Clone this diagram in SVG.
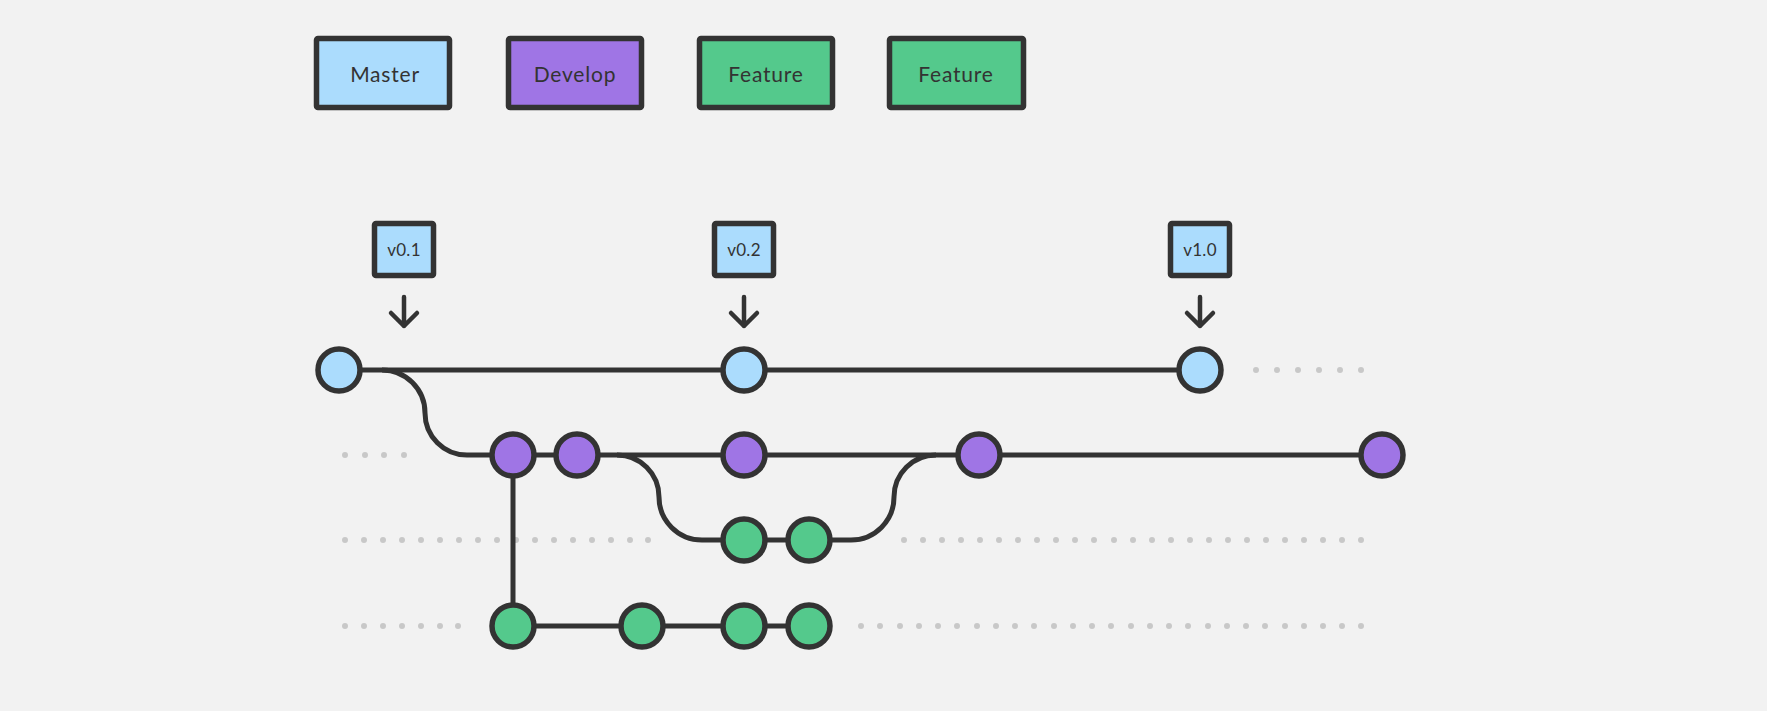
<svg xmlns="http://www.w3.org/2000/svg" width="1767" height="711" viewBox="0 0 1767 711">
<style>
.bg{fill:#f2f2f2}
.box{stroke:#333;stroke-width:5.5;stroke-linejoin:round}
.master{fill:#abdcfd}
.develop{fill:#9f75e5}
.feature{fill:#54c98c}
.lbl{font-family:Lato,"Noto Sans",sans-serif;font-size:21px;fill:#333;text-anchor:middle;letter-spacing:0.8px}
.tag{font-family:Lato,"Liberation Sans",Arial,sans-serif;font-size:17px;fill:#333;text-anchor:middle;letter-spacing:0.3px}
.commit{stroke:#333;stroke-width:5.5}
.line{fill:none;stroke:#333;stroke-width:5}
.arrow{fill:none;stroke:#333;stroke-width:4.5;stroke-linecap:round;stroke-linejoin:round}
.dot{fill:#c8c8c8}
</style>
<rect class="bg" width="1767" height="711"/>

<g id="legend">
<g id="legend-master"><rect class="box master" x="316.5" y="38.5" width="133" height="69" rx="1.5"/><text class="lbl" x="385" y="82">Master</text></g>
<g id="legend-develop"><rect class="box develop" x="508.5" y="38.5" width="133" height="69" rx="1.5"/><text class="lbl" x="575" y="82">Develop</text></g>
<g id="legend-feature1"><rect class="box feature" x="699.5" y="38.5" width="133" height="69" rx="1.5"/><text class="lbl" x="766" y="82">Feature</text></g>
<g id="legend-feature2"><rect class="box feature" x="889.5" y="38.5" width="134" height="69" rx="1.5"/><text class="lbl" x="956" y="82">Feature</text></g>
</g>

<g id="tags">
<g id="tag-v01"><rect class="box master" x="374.5" y="223.5" width="59" height="52" rx="1.5"/><text class="tag" x="404" y="256">v0.1</text><path class="arrow" d="M404 297V326M391 313L404 326L417 313"/></g>
<g id="tag-v02"><rect class="box master" x="714.5" y="223.5" width="59" height="52" rx="1.5"/><text class="tag" x="744" y="256">v0.2</text><path class="arrow" d="M744 297V326M731 313L744 326L757 313"/></g>
<g id="tag-v10"><rect class="box master" x="1170.5" y="223.5" width="59" height="52" rx="1.5"/><text class="tag" x="1200" y="256">v1.0</text><path class="arrow" d="M1200 297V326M1187 313L1200 326L1213 313"/></g>
</g>

<g id="dots">
<g id="dots-master"><circle class="dot" cx="1256" cy="370" r="3"/><circle class="dot" cx="1277" cy="370" r="3"/><circle class="dot" cx="1298" cy="370" r="3"/><circle class="dot" cx="1319" cy="370" r="3"/><circle class="dot" cx="1340" cy="370" r="3"/><circle class="dot" cx="1361" cy="370" r="3"/></g>
<g id="dots-develop"><circle class="dot" cx="345" cy="455" r="3"/><circle class="dot" cx="365" cy="455" r="3"/><circle class="dot" cx="384" cy="455" r="3"/><circle class="dot" cx="404" cy="455" r="3"/></g>
<g id="dots-feature1-left">
<circle class="dot" cx="345" cy="540" r="3"/><circle class="dot" cx="364" cy="540" r="3"/><circle class="dot" cx="383" cy="540" r="3"/><circle class="dot" cx="402" cy="540" r="3"/><circle class="dot" cx="421" cy="540" r="3"/><circle class="dot" cx="440" cy="540" r="3"/><circle class="dot" cx="459" cy="540" r="3"/><circle class="dot" cx="478" cy="540" r="3"/><circle class="dot" cx="497" cy="540" r="3"/><circle class="dot" cx="516" cy="540" r="3"/><circle class="dot" cx="535" cy="540" r="3"/><circle class="dot" cx="554" cy="540" r="3"/><circle class="dot" cx="573" cy="540" r="3"/><circle class="dot" cx="592" cy="540" r="3"/><circle class="dot" cx="611" cy="540" r="3"/><circle class="dot" cx="630" cy="540" r="3"/><circle class="dot" cx="648" cy="540" r="3"/>
</g>
<g id="dots-feature1-right">
<circle class="dot" cx="904" cy="540" r="3"/><circle class="dot" cx="923" cy="540" r="3"/><circle class="dot" cx="942" cy="540" r="3"/><circle class="dot" cx="961" cy="540" r="3"/><circle class="dot" cx="980" cy="540" r="3"/><circle class="dot" cx="999" cy="540" r="3"/><circle class="dot" cx="1018" cy="540" r="3"/><circle class="dot" cx="1037" cy="540" r="3"/><circle class="dot" cx="1056" cy="540" r="3"/><circle class="dot" cx="1075" cy="540" r="3"/><circle class="dot" cx="1094" cy="540" r="3"/><circle class="dot" cx="1114" cy="540" r="3"/><circle class="dot" cx="1133" cy="540" r="3"/><circle class="dot" cx="1152" cy="540" r="3"/><circle class="dot" cx="1171" cy="540" r="3"/><circle class="dot" cx="1190" cy="540" r="3"/><circle class="dot" cx="1209" cy="540" r="3"/><circle class="dot" cx="1228" cy="540" r="3"/><circle class="dot" cx="1247" cy="540" r="3"/><circle class="dot" cx="1266" cy="540" r="3"/><circle class="dot" cx="1285" cy="540" r="3"/><circle class="dot" cx="1304" cy="540" r="3"/><circle class="dot" cx="1323" cy="540" r="3"/><circle class="dot" cx="1342" cy="540" r="3"/><circle class="dot" cx="1361" cy="540" r="3"/>
</g>
<g id="dots-feature2-left">
<circle class="dot" cx="345" cy="626" r="3"/><circle class="dot" cx="364" cy="626" r="3"/><circle class="dot" cx="383" cy="626" r="3"/><circle class="dot" cx="402" cy="626" r="3"/><circle class="dot" cx="421" cy="626" r="3"/><circle class="dot" cx="440" cy="626" r="3"/><circle class="dot" cx="458" cy="626" r="3"/>
</g>
<g id="dots-feature2-right">
<circle class="dot" cx="861" cy="626" r="3"/><circle class="dot" cx="880" cy="626" r="3"/><circle class="dot" cx="900" cy="626" r="3"/><circle class="dot" cx="919" cy="626" r="3"/><circle class="dot" cx="938" cy="626" r="3"/><circle class="dot" cx="957" cy="626" r="3"/><circle class="dot" cx="977" cy="626" r="3"/><circle class="dot" cx="996" cy="626" r="3"/><circle class="dot" cx="1015" cy="626" r="3"/><circle class="dot" cx="1034" cy="626" r="3"/><circle class="dot" cx="1054" cy="626" r="3"/><circle class="dot" cx="1073" cy="626" r="3"/><circle class="dot" cx="1092" cy="626" r="3"/><circle class="dot" cx="1111" cy="626" r="3"/><circle class="dot" cx="1131" cy="626" r="3"/><circle class="dot" cx="1150" cy="626" r="3"/><circle class="dot" cx="1169" cy="626" r="3"/><circle class="dot" cx="1188" cy="626" r="3"/><circle class="dot" cx="1208" cy="626" r="3"/><circle class="dot" cx="1227" cy="626" r="3"/><circle class="dot" cx="1246" cy="626" r="3"/><circle class="dot" cx="1265" cy="626" r="3"/><circle class="dot" cx="1285" cy="626" r="3"/><circle class="dot" cx="1304" cy="626" r="3"/><circle class="dot" cx="1323" cy="626" r="3"/><circle class="dot" cx="1342" cy="626" r="3"/><circle class="dot" cx="1361" cy="626" r="3"/>
</g>
</g>

<g id="connectors">
<path class="line" d="M339 370H1200"/>
<path class="line" d="M382 370A43 43 0 0 1 425 413A42 42 0 0 0 467 455H1382"/>
<path class="line" d="M513 455V626H809"/>
<path class="line" d="M617 455A42 42 0 0 1 659 497A43 43 0 0 0 702 540H851A43 43 0 0 0 894 497A42 42 0 0 1 936 455"/>
</g>

<g id="commits">
<circle id="m1" class="commit master" cx="339" cy="370" r="21"/>
<circle id="m2" class="commit master" cx="744" cy="370" r="21"/>
<circle id="m3" class="commit master" cx="1200" cy="370" r="21"/>
<circle id="d1" class="commit develop" cx="513" cy="455" r="21"/>
<circle id="d2" class="commit develop" cx="577" cy="455" r="21"/>
<circle id="d3" class="commit develop" cx="744" cy="455" r="21"/>
<circle id="d4" class="commit develop" cx="979" cy="455" r="21"/>
<circle id="d5" class="commit develop" cx="1382" cy="455" r="21"/>
<circle id="f1a" class="commit feature" cx="744" cy="540" r="21"/>
<circle id="f1b" class="commit feature" cx="809" cy="540" r="21"/>
<circle id="f2a" class="commit feature" cx="513" cy="626" r="21"/>
<circle id="f2b" class="commit feature" cx="642" cy="626" r="21"/>
<circle id="f2c" class="commit feature" cx="744" cy="626" r="21"/>
<circle id="f2d" class="commit feature" cx="809" cy="626" r="21"/>
</g>
</svg>
